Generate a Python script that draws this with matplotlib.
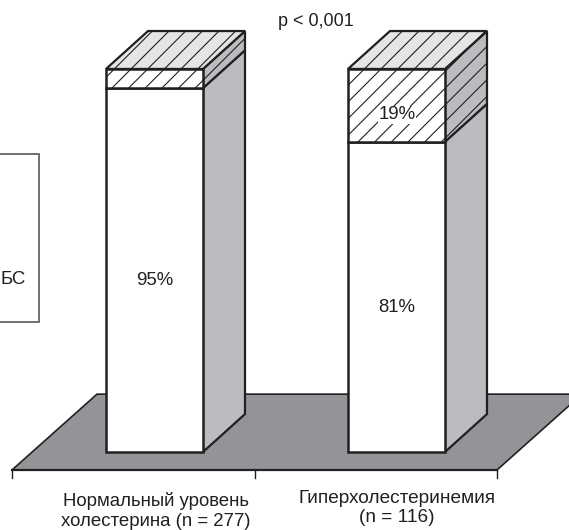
#!/usr/bin/env python

import matplotlib
matplotlib.use("Agg")
import matplotlib.pyplot as plt
from matplotlib.patches import Polygon, Rectangle

plt.rcParams["font.family"] = ["Liberation Sans", "DejaVu Sans"]
plt.rcParams["hatch.linewidth"] = 0.8

categories = ["Нормальный уровень\nхолестерина (n = 277)", "Гиперхолестеринемия\n(n = 116)"]
lower = [95, 81]
upper = [5, 19]
lower_labels = ["95%", "81%"]
upper_labels = ["", "19%"]

LINE = "#231f20"
FLOOR = "#939497"
SIDE = "#bbbcbf"
TOP = "#e4e5e6"

# x in pixels of the picture, y in percent
BAR_X = [106, 348]
BAR_W = 97
DX = 42
DY = 9.9
PX = 3.83  # pixels per percent
FS = 13.4


def face(ax, pts, fc, hatch=None, lw=1.6, z=2):
    ax.add_patch(Polygon(pts, closed=True, facecolor=fc, edgecolor=LINE,
                         hatch=hatch, linewidth=lw, joinstyle="miter", zorder=z))


def draw_bar(ax, x, low, up):
    r = x + BAR_W
    total = low + up
    # side
    face(ax, [(r, 0), (r + DX, DY), (r + DX, low + DY), (r, low)], SIDE)
    face(ax, [(r, low), (r + DX, low + DY), (r + DX, total + DY), (r, total)], SIDE, "//")
    # top
    face(ax, [(x, total), (r, total), (r + DX, total + DY), (x + DX, total + DY)], TOP, "//")
    # front
    ax.bar(x, low, BAR_W, align="edge", color="white", edgecolor=LINE, linewidth=1.8, zorder=3)
    ax.bar(x, up, BAR_W, bottom=low, align="edge", color="white", edgecolor=LINE,
           linewidth=1.8, hatch="//", zorder=3)


fig = plt.figure(figsize=(5.69, 5.30), dpi=100)
ax = fig.add_axes([0, 0, 1, 1])
ax.set_xlim(0, 569)
ax.set_ylim(-20.37, 118.0)
ax.axis("off")

# floor
face(ax, [(12, -4.7), (497, -4.7), (582, 15.1), (97, 15.1)], FLOOR, lw=1.2, z=1)
ax.plot([12, 497], [-4.7, -4.7], color=LINE, lw=1.6, zorder=1)
for tx in [12, 255, 497]:
    ax.plot([tx, tx], [-4.7, -6.9], color=LINE, lw=1, zorder=1)

for i in range(len(categories)):
    draw_bar(ax, BAR_X[i], lower[i], upper[i])
    cx = BAR_X[i] + BAR_W / 2
    ax.text(cx, lower[i] / 2 - 2.7, lower_labels[i], ha="center", va="center",
            fontsize=FS, color=LINE, zorder=5)
    if upper_labels[i]:
        ax.text(cx + 0.5, lower[i] + upper[i] / 2 - 2.5, upper_labels[i], ha="center", va="center",
                fontsize=FS, color=LINE, zorder=5,
                bbox=dict(facecolor="white", edgecolor="none", pad=0.5))

ax.text(156, -15.4, categories[0], ha="center", va="center", fontsize=FS, color=LINE, linespacing=1.3)
ax.text(397, -14.6, categories[1], ha="center", va="center", fontsize=13.7, color=LINE, linespacing=1.2)

ax.text(316, 112.3, "p < 0,001", ha="center", va="center", fontsize=13, color=LINE)

# legend box cut by the picture edge
ax.add_patch(Rectangle((-10, (452 - 322) / PX), 49, 168 / PX, facecolor="white",
                       edgecolor="#58595b", linewidth=1.2, zorder=2))
ax.text(0.5, (452 - 279.5) / PX, "БС", ha="left", va="center", fontsize=FS, color=LINE, zorder=5)

fig.savefig("out.png", dpi=100)
